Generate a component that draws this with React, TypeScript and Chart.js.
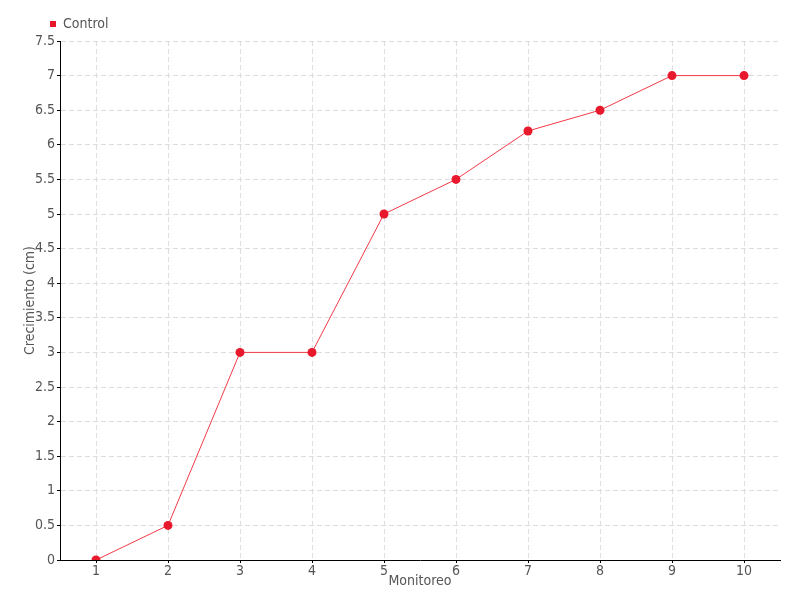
import React, { useEffect, useRef } from "react";
import { Chart, registerables } from "chart.js";

Chart.register(...registerables);

const categories = ["1", "2", "3", "4", "5", "6", "7", "8", "9", "10"];
const controlValues = [0, 0.5, 3, 3, 5, 5.5, 6.2, 6.5, 7, 7];
const seriesName = "Control";
const yTitle = "Crecimiento (cm)";
const xTitle = "Monitoreo";

const FONT = "'DejaVu Sans Condensed', 'Liberation Sans Narrow', sans-serif";
const TEXT = "#555555";
const GRID = "#dedede";

const legendShift = {
  id: "legendShift",
  afterLayout(chart: any) {
    const l = chart.legend;
    if (l) {
      l.left += 40;
      l.right += 40;
    }
  },
};

export default function App() {
  const ref = useRef<HTMLCanvasElement | null>(null);
  useEffect(() => {
    if (!ref.current) return;
    const chart = new Chart(ref.current, {
      type: "line",
      data: {
        labels: categories,
        datasets: [
          {
            label: seriesName,
            data: controlValues,
            borderColor: "#f23a47",
            backgroundColor: "#e8192c",
            borderWidth: 1,
            pointRadius: 4.5,
            pointBorderWidth: 0,
            pointBackgroundColor: "#e8192c",
            pointBorderColor: "#e8192c",
            tension: 0,
          },
        ],
      },
      plugins: [legendShift],
      options: {
        responsive: false,
        animation: false,
        devicePixelRatio: 1,
        layout: { padding: { top: 7, right: 20, bottom: 0, left: 0 } },
        plugins: {
          tooltip: { enabled: false },
          legend: {
            position: "top",
            align: "start",
            labels: {
              usePointStyle: true,
              pointStyle: "rect",
              boxWidth: 6,
              boxHeight: 6,
              padding: 10,
              color: TEXT,
              font: { family: FONT, size: 14 },
            },
          },
        },
        scales: {
          x: {
            type: "category",
            offset: true,
            afterFit: (s: any) => {
              s.height = 40;
            },
            grid: {
              color: GRID,
              lineWidth: 1,
              offset: false,
              drawTicks: true,
              tickLength: 3,
              tickColor: "#000",
              tickWidth: 1,
            },
            border: { display: true, color: "#000", width: 1, dash: [5, 3] },
            ticks: {
              color: TEXT,
              padding: 0,
              maxRotation: 0,
              font: { family: FONT, size: 14 },
            },
            title: {
              display: true,
              text: xTitle,
              color: TEXT,
              font: { family: FONT, size: 14 },
              padding: { top: 0, bottom: 10 },
            },
          },
          y: {
            min: 0,
            max: 7.5,
            afterFit: (s: any) => {
              s.width = 60;
            },
            grid: {
              color: GRID,
              lineWidth: 1,
              drawTicks: true,
              tickLength: 3,
              tickColor: "#000",
              tickWidth: 1,
            },
            border: { display: true, color: "#000", width: 1, dash: [5, 3] },
            ticks: {
              stepSize: 0.5,
              color: TEXT,
              padding: 2,
              font: { family: FONT, size: 14 },
              callback: (v: any) => String(Number(v)),
            },
            title: {
              display: true,
              text: yTitle,
              color: TEXT,
              font: { family: FONT, size: 14 },
              padding: { top: 22, bottom: 0 },
            },
          },
        },
      },
    });
    return () => chart.destroy();
  }, []);
  return (
    <div style={{ position: "absolute", left: 0, top: 0, width: 800, height: 600 }}>
      <canvas ref={ref} width={800} height={600} />
    </div>
  );
}
